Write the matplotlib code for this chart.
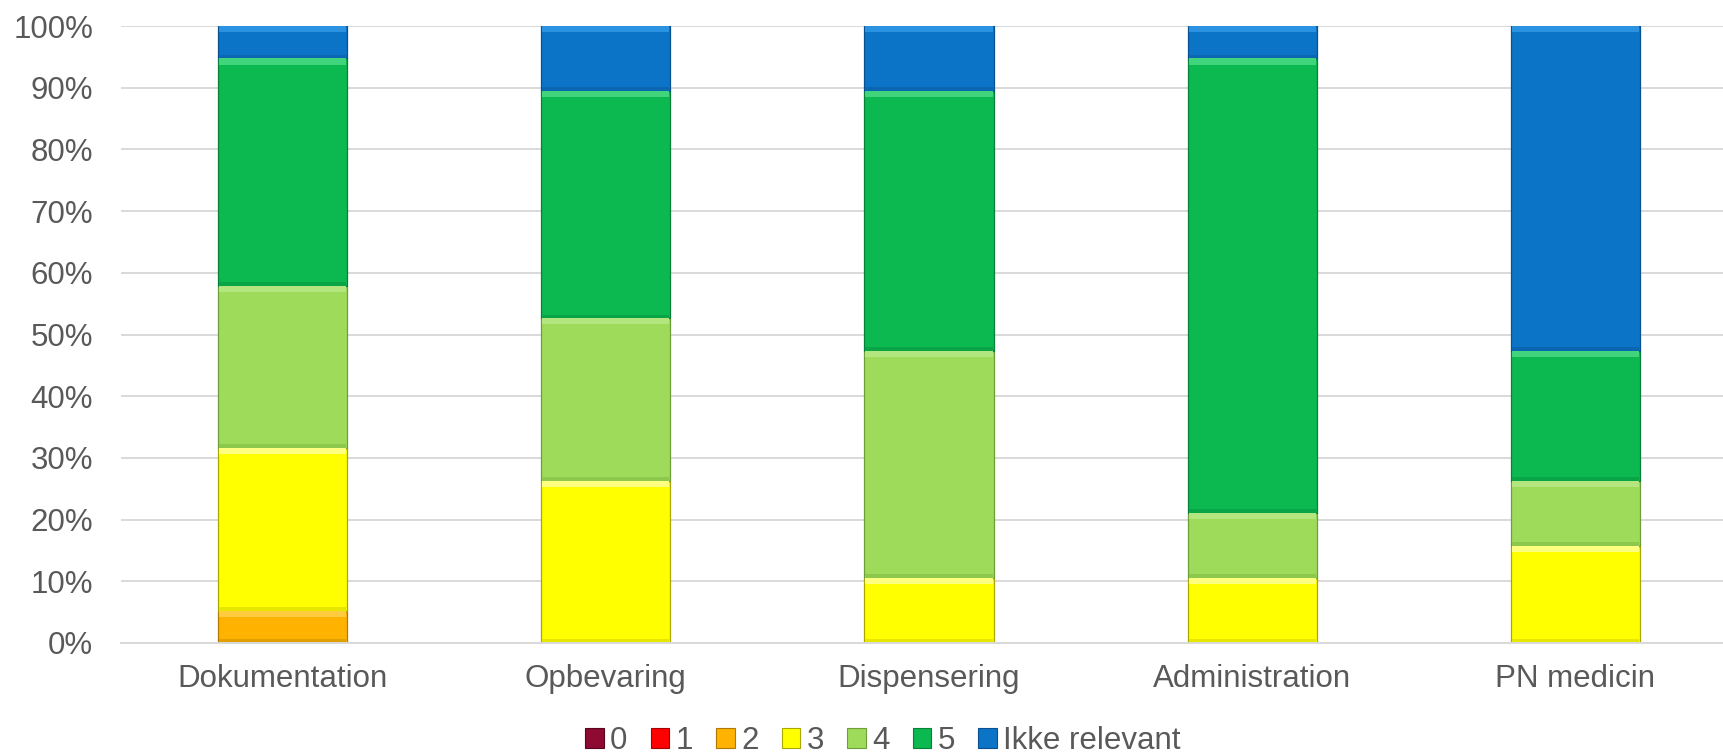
import matplotlib
matplotlib.use("Agg")
import matplotlib.pyplot as plt
import numpy as np
from matplotlib.patches import Patch

categories = ["Dokumentation", "Opbevaring", "Dispensering", "Administration", "PN medicin"]
series_names = ["0", "1", "2", "3", "4", "5", "Ikke relevant"]
# percentages (of 19 respondents)
s0 = [0.0, 0.0, 0.0, 0.0, 0.0]
s1 = [0.0, 0.0, 0.0, 0.0, 0.0]
s2 = [5.26, 0.0, 0.0, 0.0, 0.0]
s3 = [26.32, 26.32, 10.53, 10.53, 15.79]
s4 = [26.32, 26.32, 36.84, 10.53, 10.53]
s5 = [36.84, 36.84, 42.11, 73.68, 21.05]
s_ir = [5.26, 10.53, 10.53, 5.26, 52.63]
series = [s0, s1, s2, s3, s4, s5, s_ir]

colors = ["#8E0A33", "#FF0000", "#FFB300", "#FFFF00", "#9FDB5A", "#0BB950", "#0C74C6"]
edges = ["#5a0520", "#a00000", "#b07a00", "#a8a800", "#6e9e3a", "#07803a", "#085090"]
tops = ["#b03050", "#ff5050", "#ffcc40", "#ffff80", "#b4e680", "#40d47c", "#2a92e0"]
shades = ["#70082a", "#d00000", "#e0a000", "#e6e600", "#8cc84c", "#09a445", "#0a66b0"]

W, H = 1723, 755
fig = plt.figure(figsize=(W / 100, H / 100), dpi=100)
L, R, T, B = 121, 1737, 26, 643
ax = fig.add_axes([L / W, 1 - B / H, (R - L) / W, (B - T) / H])

x = np.arange(len(categories))
bw = 0.40
bottom = np.zeros(len(categories))
for vals, c, ec, tc, sc in zip(series, colors, edges, tops, shades):
    v = np.array(vals)
    mask = v > 0
    ax.bar(x, v, bw, bottom=bottom, color=c, edgecolor=ec, linewidth=0.9, zorder=3)
    # bevel: lighter top band, darker bottom band
    hl = np.where(mask, np.minimum(1.0, v / 3), 0.0)
    ax.bar(x, hl, bw * 0.985, bottom=bottom + v - hl, color=tc, linewidth=0, zorder=4)
    sh = np.where(mask, np.minimum(0.6, v / 4), 0.0)
    ax.bar(x, sh, bw * 0.985, bottom=bottom, color=sc, linewidth=0, zorder=4)
    bottom += v

ax.set_ylim(0, 100)
ax.set_xlim(-0.5, len(categories) - 0.5)
ax.set_yticks(np.arange(0, 101, 10))
ax.set_yticklabels([f"{t}%" for t in range(0, 101, 10)])
ax.set_xticks(x)
ax.set_xticklabels(categories)
ax.grid(axis="y", color="#d9d9d9", linewidth=1.4, zorder=0)
for s in ["top", "right", "left"]:
    ax.spines[s].set_visible(False)
ax.spines["bottom"].set_color("#d9d9d9")
ax.spines["bottom"].set_linewidth(1.4)
ax.spines["bottom"].set_zorder(5)
ax.tick_params(axis="both", length=0, labelsize=22.5, labelcolor="#595959")
ax.tick_params(axis="y", pad=20)
ax.tick_params(axis="x", pad=15)
for lab in ax.get_xticklabels() + ax.get_yticklabels():
    lab.set_fontfamily("Liberation Sans")

handles = [Patch(facecolor=c, edgecolor=e, linewidth=0.8) for c, e in zip(colors, edges)]
leg = fig.legend(handles, series_names, loc="center", bbox_to_anchor=(883 / W, 1 - 741 / H),
                 ncol=7, frameon=False, handlelength=0.59, handleheight=0.59,
                 handletextpad=0.2, columnspacing=0.75, borderpad=0.0, borderaxespad=0.0,
                 prop={"family": "Liberation Sans", "size": 22.5})
for t in leg.get_texts():
    t.set_color("#595959")

fig.savefig("out.png", dpi=100)
